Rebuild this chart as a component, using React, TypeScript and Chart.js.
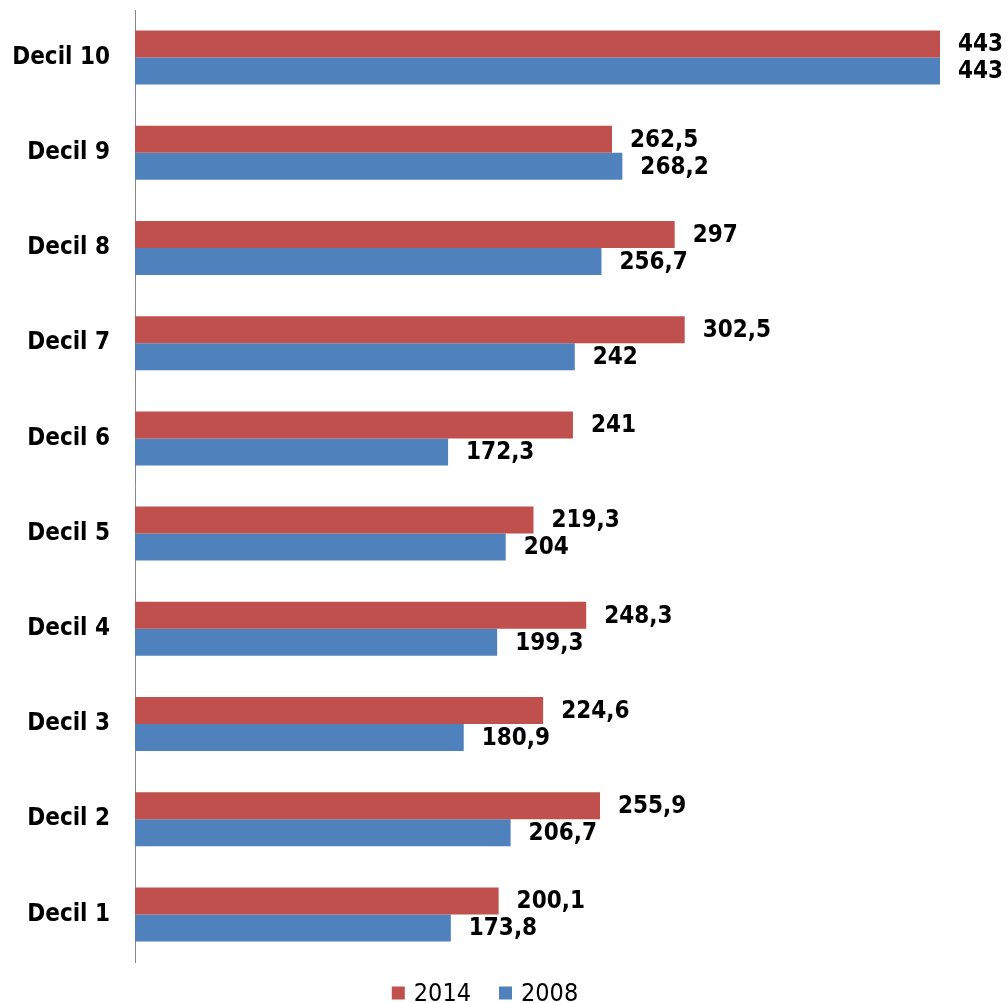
import React, { useEffect, useRef } from "react";
import { Chart, registerables } from "chart.js";

Chart.register(...registerables);

const categories = ["Decil 10", "Decil 9", "Decil 8", "Decil 7", "Decil 6", "Decil 5", "Decil 4", "Decil 3", "Decil 2", "Decil 1"];
const series2014 = [443, 262.5, 297, 302.5, 241, 219.3, 248.3, 224.6, 255.9, 200.1];
const series2008 = [443, 268.2, 256.7, 242, 172.3, 204, 199.3, 180.9, 206.7, 173.8];
const seriesNames = ["2014", "2008"];
const colors = ["#C0504D", "#4F81BD"];

const FONT = "'DejaVu Sans Condensed', 'DejaVu Sans', sans-serif";

const fmt = (v: number) => String(v).replace(".", ",");

const dataLabels = {
  id: "dataLabels",
  afterDatasetsDraw(chart: any) {
    const ctx = chart.ctx;
    ctx.save();
    ctx.font = `bold 24px ${FONT}`;
    ctx.fillStyle = "#000";
    ctx.textAlign = "left";
    ctx.textBaseline = "middle";
    chart.data.datasets.forEach((ds: any, i: number) => {
      const meta = chart.getDatasetMeta(i);
      meta.data.forEach((el: any, j: number) => {
        ctx.fillText(fmt(ds.data[j]), el.x + 18, el.y + 1);
      });
    });
    ctx.restore();
  },
};

const customLegend = {
  id: "customLegend",
  afterDraw(chart: any) {
    const ctx = chart.ctx;
    ctx.save();
    ctx.font = `25px ${FONT}`;
    ctx.textBaseline = "middle";
    ctx.textAlign = "left";
    const box = 13;
    const gap = 9;
    const itemGap = 28;
    const widths = seriesNames.map((n) => box + gap + ctx.measureText(n).width);
    const total = widths.reduce((a, b) => a + b, 0) + itemGap * (widths.length - 1);
    let x = 485 - total / 2;
    const y = chart.height - 10;
    seriesNames.forEach((n, i) => {
      ctx.fillStyle = colors[i];
      ctx.fillRect(x, y - box / 2, box, box);
      ctx.fillStyle = "#000";
      ctx.fillText(n, x + box + gap, y + 1);
      x += widths[i] + itemGap;
    });
    ctx.restore();
  },
};

export default function App() {
  const ref = useRef<HTMLCanvasElement>(null);
  useEffect(() => {
    if (!ref.current) return;
    const chart = new Chart(ref.current, {
      type: "bar",
      data: {
        labels: categories,
        datasets: [
          { label: seriesNames[0], data: series2014, backgroundColor: colors[0], borderWidth: 0 },
          { label: seriesNames[1], data: series2008, backgroundColor: colors[1], borderWidth: 0 },
        ],
      },
      options: {
        indexAxis: "y",
        responsive: false,
        animation: false,
        layout: { padding: { top: 10, right: 68, bottom: 41, left: 0 } },
        datasets: { bar: { barPercentage: 1, categoryPercentage: 0.567 } },
        plugins: { legend: { display: false }, tooltip: { enabled: false } },
        scales: {
          x: { display: false, min: 0, max: 443 },
          y: {
            type: "category",
            grid: { display: false, drawTicks: false },
            border: { display: true, color: "#868686", width: 1 },
            ticks: { font: { family: FONT, size: 24, weight: "bold" }, color: "#000", padding: 25 },
            afterFit: (scale: any) => {
              scale.width = 135;
              scale.paddingTop = 0;
              scale.paddingBottom = 0;
            },
          },
        },
      } as any,
      plugins: [dataLabels, customLegend],
    });
    return () => chart.destroy();
  }, []);
  return (
    <div style={{ position: "absolute", left: 0, top: 0, width: 1008, height: 1003, background: "#fff" }}>
      <canvas ref={ref} width={1008} height={1003} />
    </div>
  );
}
